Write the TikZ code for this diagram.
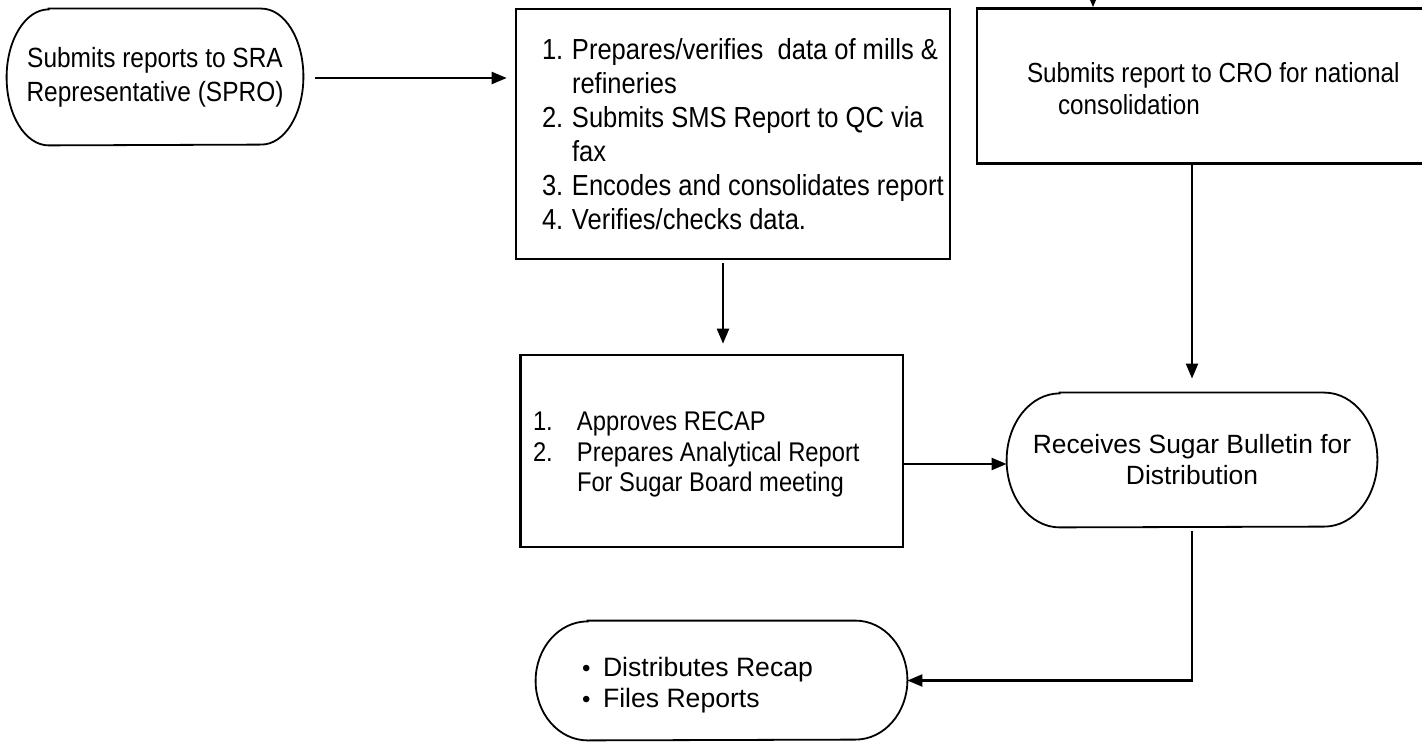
\documentclass[tikz,border=0pt]{standalone}
\usepackage{fontspec}
\setmainfont{Liberation Sans}
\newfontfamily\narrowsans[FakeStretch=0.88]{Liberation Sans}
\usetikzlibrary{arrows.meta}

\newcommand{\itemline}[3]{\makebox[#1][l]{#2}#3}
\newcommand{\leftlines}[3]{\raisebox{#2}[\height][\depth]{\makebox[#1][l]{%
  \renewcommand{\arraystretch}{1}\begin{tabular}{@{}l@{}}#3\end{tabular}}}}

\begin{document}
\begin{tikzpicture}[x=0.5pt,y=-0.5pt,
    box/.style={draw, line width=1.3pt, inner ysep=0pt},
    term/.style={inner sep=0pt},
    flow/.style={line width=1.1pt, -{Triangle[length=7.5pt,width=6pt]}}]
  \useasboundingbox (0,0) rectangle (1422,742);
  \clip (0,0) rectangle (1422,742);

  \node[term, align=center, minimum width=148pt, minimum height=68pt,
        font=\narrowsans\fontsize{13.9}{17}\selectfont] (submit) at (155,77)
        {Submits reports to SRA\\Representative (SPRO)};

  \node[box, minimum height=125pt, inner xsep=13pt,
        font=\narrowsans\fontsize{14.5}{17}\selectfont] (prepare) at (733,134)
        {\leftlines{191pt}{-2pt}{\itemline{15pt}{1.}{Prepares/verifies~ data of mills \&}\\
         \itemline{15pt}{}{refineries}\\
         \itemline{15pt}{2.}{Submits SMS Report to QC via}\\
         \itemline{15pt}{}{fax}\\
         \itemline{15pt}{3.}{Encodes and consolidates report}\\
         \itemline{15pt}{4.}{Verifies/checks data.}}};

  \node[box, minimum height=77.5pt, inner xsep=25pt,
        font=\narrowsans\fontsize{13.8}{16}\selectfont] (cro) at (1208.5,86)
        {\leftlines{181.5pt}{-3pt}{Submits report to CRO for national\\
         \hspace*{15.5pt}consolidation}};

  \node[box, minimum height=96pt, inner xsep=6.25pt,
        font=\narrowsans\fontsize{13.5}{15.25}\selectfont] (recap) at (711.75,451)
        {\leftlines{178.75pt}{-2pt}{\itemline{22pt}{1.}{Approves RECAP}\\
         \itemline{22pt}{2.}{Prepares Analytical Report}\\
         \itemline{22pt}{}{For Sugar Board meeting}}};

  \node[term, align=center, minimum width=185pt, minimum height=67pt,
        font=\fontsize{13.2}{15.5}\selectfont] (bulletin) at (1192,460)
        {Receives Sugar Bulletin for\\Distribution};

  \node[term, minimum width=185.5pt, minimum height=59.5pt, inner xsep=23pt,
        font=\fontsize{13.3}{15.5}\selectfont] (distribute) at (721.5,680.5)
        {\leftlines{139.5pt}{-2.5pt}{\itemline{10.5pt}{\raisebox{0pt}{\fontsize{12}{12}\selectfont\textbullet}}{Distributes Recap}\\
         \itemline{10.5pt}{\raisebox{0pt}{\fontsize{12}{12}\selectfont\textbullet}}{Files Reports}}};

  \foreach \n/\r/\h in {submit/21/34, bulletin/26.5/33.5, distribute/26/29.75}
    \draw[line width=0.9pt] ([xshift=\r pt]\n.north west) -- ([xshift=-\r pt]\n.north east)
      arc[start angle=90, end angle=-90, x radius=\r pt, y radius=\h pt]
      -- ([xshift=\r pt]\n.south west)
      arc[start angle=270, end angle=90, x radius=\r pt, y radius=\h pt] -- cycle;

  \coordinate (feed) at (1093,-20);

  \draw[flow, shorten <=6pt, shorten >=4pt] ([yshift=-0.5pt]submit.east) -- ([yshift=-0.5pt]submit.east -| prepare.west);
  \draw[flow, shorten <=1.5pt, shorten >=5pt] ([xshift=-5pt]prepare.south) -- ([xshift=-5pt]prepare.south |- recap.north);
  \draw[flow] (feed) -- (feed |- cro.north);
  \draw[flow, shorten >=7pt] (bulletin.north |- cro.south) -- (bulletin.north);
  \draw[flow] ([yshift=-6.5pt]recap.east) -- ([yshift=-6.5pt]recap.east -| bulletin.west);
  \draw[flow, shorten <=2pt] (bulletin.south) |- (distribute.east);
\end{tikzpicture}
\end{document}
